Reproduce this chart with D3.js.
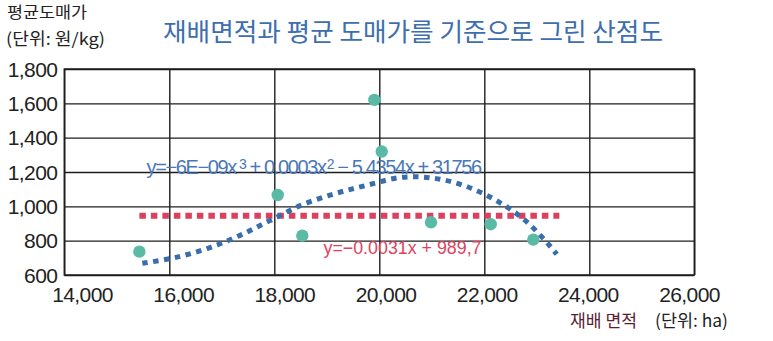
<!DOCTYPE html>
<html>
<head>
<meta charset="utf-8">
<script src="https://cdn.jsdelivr.net/npm/d3@7"></script>
<style>
  body { margin: 0; background: #fff; }
  svg text { font-family: "Liberation Sans", Arial, sans-serif; }
  .ko { font-family: "Noto Sans CJK KR", "Noto Sans", sans-serif; }
</style>
</head>
<body>
<svg id="chart" width="773" height="341"></svg>
<script>
// Cultivated area (ha) and average wholesale price (원/kg)
const area  = [15430, 18065, 18533, 19905, 20046, 20985, 22122, 22933];
const price = [736, 1066, 829, 1620, 1319, 907, 896, 806];

// Axis ticks
const xTicks = [14000, 16000, 18000, 20000, 22000, 24000, 26000];
const yTicks = [600, 800, 1000, 1200, 1400, 1600, 1800];

// Cubic trend line, sampled along its course
const polyX = [15486, 16128, 16750, 17347, 17937, 18522, 19156, 19779, 20427, 21061, 21676, 22267, 22789, 23251, 23379];
const polyY = [668, 703, 757, 831, 920, 1008, 1074, 1124, 1169, 1163, 1114, 1027, 915, 769, 721];

// Linear trend line end points
const linX = [15430, 23430];
const linY = [945, 945];

const svg = d3.select("#chart");
const plotL = 64.3, plotR = 694.3, plotT = 69, plotB = 275;

const x = d3.scaleLinear().domain([14000, 26000]).range([plotL, plotR]);
const y = d3.scaleLinear().domain([600, 1800]).range([plotB, plotT]);
// tick labels sit on a slightly narrower band than the grid
const xLabel = d3.scaleLinear().domain([14000, 26000]).range([82, 689]);

const gridColor = "#1e1e1e";

// horizontal grid + y labels
const gy = svg.append("g")
  .attr("transform", `translate(${plotL},0)`)
  .call(d3.axisLeft(y).tickValues(yTicks).tickSize(-(plotR - plotL)).tickPadding(7).tickFormat(d3.format(",")));
gy.select(".domain").remove();
gy.selectAll(".tick line").attr("stroke", gridColor).attr("stroke-width", 1.4);
gy.selectAll(".tick text").attr("font-size", 21).attr("fill", "#222").attr("dy", "0.34em")
  .style("font-family", "'Liberation Sans', Arial, sans-serif").attr("letter-spacing", -0.6);

// vertical grid
const gx = svg.append("g")
  .attr("transform", `translate(0,${plotB})`)
  .call(d3.axisBottom(x).tickValues(xTicks).tickSize(-(plotB - plotT)).tickFormat(""));
gx.select(".domain").remove();
gx.selectAll(".tick line").attr("stroke", gridColor).attr("stroke-width", 1.4);

// x labels
const gxl = svg.append("g")
  .attr("transform", `translate(0,${plotB})`)
  .call(d3.axisBottom(xLabel).tickValues(xTicks).tickSize(0).tickPadding(12).tickFormat(d3.format(",")));
gxl.select(".domain").remove();
gxl.selectAll(".tick text").attr("font-size", 21).attr("fill", "#222")
  .style("font-family", "'Liberation Sans', Arial, sans-serif").attr("letter-spacing", -0.6);

// plot frame
svg.append("rect")
  .attr("x", plotL).attr("y", plotT)
  .attr("width", plotR - plotL).attr("height", plotB - plotT)
  .attr("fill", "none").attr("stroke", gridColor).attr("stroke-width", 1.5);

// linear trend
const lin = d3.line().x(d => x(d[0])).y(d => y(d[1]));
svg.append("path")
  .datum(linX.map((v, i) => [v, linY[i]]))
  .attr("d", lin)
  .attr("fill", "none").attr("stroke", "#d9415e").attr("stroke-width", 6)
  .attr("stroke-dasharray", "6.5 5");

// cubic trend
const poly = d3.line().x(d => x(d[0])).y(d => y(d[1])).curve(d3.curveCatmullRom);
svg.append("path")
  .datum(polyX.map((v, i) => [v, polyY[i]]))
  .attr("d", poly)
  .attr("fill", "none").attr("stroke", "#396dac").attr("stroke-width", 5)
  .attr("stroke-dasharray", "5.5 5.5");

// points
svg.append("g").selectAll("circle")
  .data(area.map((v, i) => [v, price[i]]))
  .join("circle")
  .attr("cx", d => x(d[0])).attr("cy", d => y(d[1]))
  .attr("r", 6.2).attr("fill", "#5bbaa5");

// cubic equation: one text with superscript tspans, letter-spacing tuned to its width
const eq1 = svg.append("text").attr("x", 146.5).attr("y", 173.5)
  .attr("font-size", 20).attr("fill", "#4a77b6");
eq1.append("tspan").text("y=−6E−09x");
eq1.append("tspan").attr("font-size", 14).attr("dy", -5).attr("dx", 3).text("3");
eq1.append("tspan").attr("dy", 5).text(" + 0.0003x");
eq1.append("tspan").attr("font-size", 14).attr("dy", -5).attr("dx", 1).text("2");
eq1.append("tspan").attr("dy", 5).text(" − 5.4354x  + 31756");
{
  const w = eq1.node().getComputedTextLength();
  const chars = eq1.text().length;
  eq1.attr("letter-spacing", (329 - w) / chars);
}

svg.append("text").attr("x", 323.5).attr("y", 253.5)
  .attr("font-size", 18).attr("fill", "#df4260")
  .attr("textLength", 158).attr("lengthAdjust", "spacingAndGlyphs")
  .text("y=−0.0031x  +  989,7");

// titles
svg.append("text").attr("class", "ko").attr("x", 7).attr("y", 18)
  .attr("font-size", 16).attr("fill", "#222")
  .attr("textLength", 80).attr("lengthAdjust", "spacingAndGlyphs").text("평균도매가");
svg.append("text").attr("class", "ko").attr("x", 6).attr("y", 45)
  .attr("font-size", 16.5).attr("fill", "#222")
  .attr("textLength", 99).attr("lengthAdjust", "spacingAndGlyphs").text("(단위: 원/kg)");

svg.append("text").attr("class", "ko").attr("x", 163).attr("y", 41)
  .attr("font-size", 25).attr("fill", "#3d6ead")
  .attr("textLength", 500).attr("lengthAdjust", "spacingAndGlyphs")
  .text("재배면적과 평균 도매가를 기준으로 그린 산점도");

svg.append("text").attr("class", "ko").attr("x", 570).attr("y", 327)
  .attr("font-size", 17).attr("fill", "#5a1e32")
  .attr("textLength", 67).attr("lengthAdjust", "spacingAndGlyphs").text("재배 면적");
svg.append("text").attr("class", "ko").attr("x", 655).attr("y", 327)
  .attr("font-size", 17).attr("fill", "#222")
  .attr("textLength", 73).attr("lengthAdjust", "spacingAndGlyphs").text("(단위: ha)");
</script>
</body>
</html>
